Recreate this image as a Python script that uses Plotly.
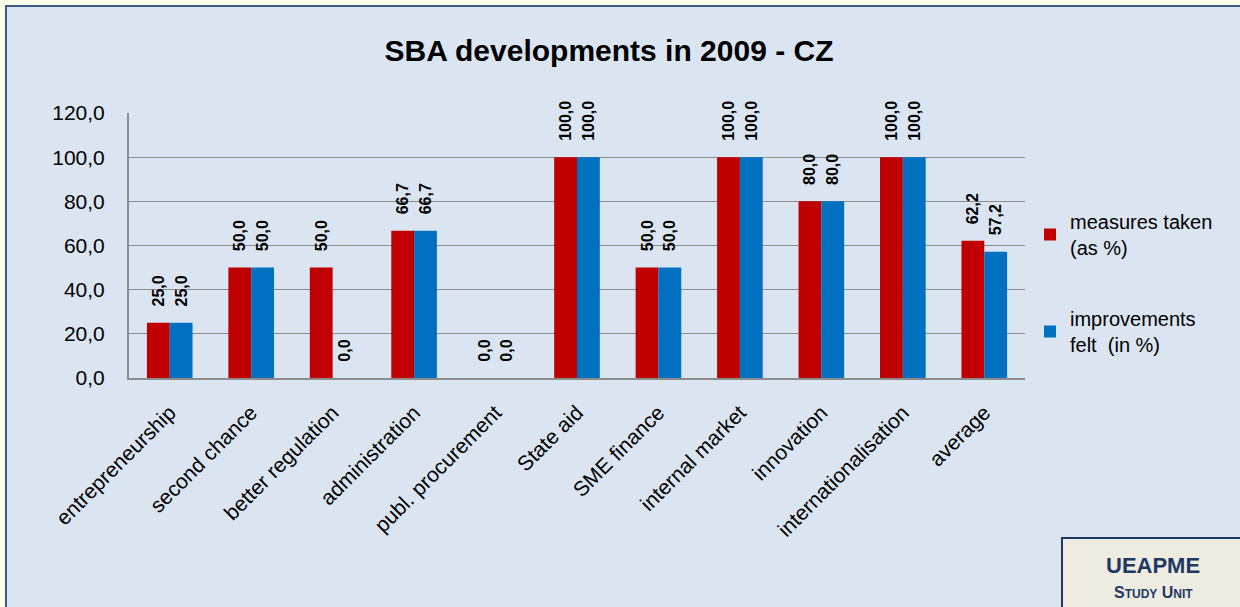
import plotly.graph_objects as go

categories = ["entrepreneurship", "second chance", "better regulation", "administration",
              "publ. procurement", "State aid", "SME finance", "internal market",
              "innovation", "internationalisation", "average"]
measures_taken = [25.0, 50.0, 50.0, 66.7, 0.0, 100.0, 50.0, 100.0, 80.0, 100.0, 62.2]
improvements_felt = [25.0, 50.0, 0.0, 66.7, 0.0, 100.0, 50.0, 100.0, 80.0, 100.0, 57.2]
series_names = ["measures taken<br>(as %)", "improvements<br>felt  (in %)"]
tick_values = [0, 20, 40, 60, 80, 100, 120]

def fmt(v):
    return f"{v:.1f}".replace(".", ",")

W, H = 1240, 607
# plot area in page pixel coordinates
X0, X1, Y0, Y1 = 129, 1025, 113, 378
L, R, T, B = X0, W - X1, Y0, H - Y1
pw, ph = X1 - X0, Y1 - Y0

def px(x):
    return (x - X0) / pw

def py(y):
    return (Y1 - y) / ph

FONT = "Liberation Sans Narrow, Arial Narrow, Liberation Sans, Arial"
NB = "\u00a0\u00a0\u00a0"

fig = go.Figure()
for name, vals, col, grp in [(series_names[0], measures_taken, "#C00000", "a"),
                             (series_names[1], improvements_felt, "#0070C0", "b")]:
    fig.add_trace(go.Bar(
        x=categories, y=vals, name=name, marker=dict(color=col, line=dict(width=0)),
        text=[NB + fmt(v) for v in vals], textposition="outside", textangle=-90,
        constraintext="none",
        textfont=dict(family=FONT, size=16, color="black", weight="bold"),
        cliponaxis=False, legendgroup=grp,
    ))

shapes = [
    dict(type="rect", xref="paper", yref="paper", x0=px(6), x1=px(1260), y0=py(6), y1=py(630),
         fillcolor="#DBE5F1", line=dict(color="#385D8A", width=2), layer="below"),
    dict(type="rect", xref="paper", yref="paper", x0=px(1062), x1=px(1260), y0=py(538), y1=py(630),
         fillcolor="#EEECE1", line=dict(color="#1F3864", width=2), layer="above"),
]

fig.update_layout(
    width=W, height=H,
    margin=dict(l=L, r=R, t=T, b=B, autoexpand=False),
    paper_bgcolor="#FEFDE8", plot_bgcolor="#EEECE1",
    barmode="group", bargap=0.44, bargroupgap=0,
    title=dict(text="<b>SBA developments in 2009 - CZ</b>", x=609 / W, xanchor="center",
               y=1 - 50 / H, yanchor="middle", font=dict(family=FONT, size=30, color="black")),
    font=dict(family=FONT, color="black"),
    xaxis=dict(tickangle=-45, tickfont=dict(family=FONT, size=21), showline=True,
               linecolor="#8C8C8C", linewidth=2, ticks="", showgrid=False,
               ticklabelstandoff=12),
    yaxis=dict(range=[0, 120], tickvals=tick_values, ticktext=[fmt(v) for v in tick_values],
               tickfont=dict(family=FONT, size=21), showgrid=True, gridcolor="#8C8C8C",
               gridwidth=1, showline=True, linecolor="#8C8C8C", linewidth=2, ticks="",
               ticklabelstandoff=18, zeroline=False, mirror=False),
    legend=dict(x=px(1030), xanchor="left", y=py(202), yanchor="top",
                font=dict(family=FONT, size=20), bgcolor="rgba(0,0,0,0)",
                tracegroupgap=42, itemwidth=30),
    shapes=shapes,
    annotations=[
        dict(text="<b>UEAPME</b>", xref="paper", yref="paper", x=px(1153), y=py(565),
             xanchor="center", yanchor="middle", showarrow=False,
             font=dict(family="Liberation Sans, Arial", size=22, color="#1F3864")),
        dict(text="<b>S<span style='font-size:12px'>TUDY</span> U<span style='font-size:12px'>NIT</span></b>",
             xref="paper", yref="paper", x=px(1153), y=py(592),
             xanchor="center", yanchor="middle", showarrow=False,
             font=dict(family="Liberation Sans, Arial", size=16, color="#1F3864")),
    ],
)

fig.write_html("out.html", config={"displayModeBar": False},
               post_script="document.body.style.margin='0';document.body.style.overflow='hidden';")
